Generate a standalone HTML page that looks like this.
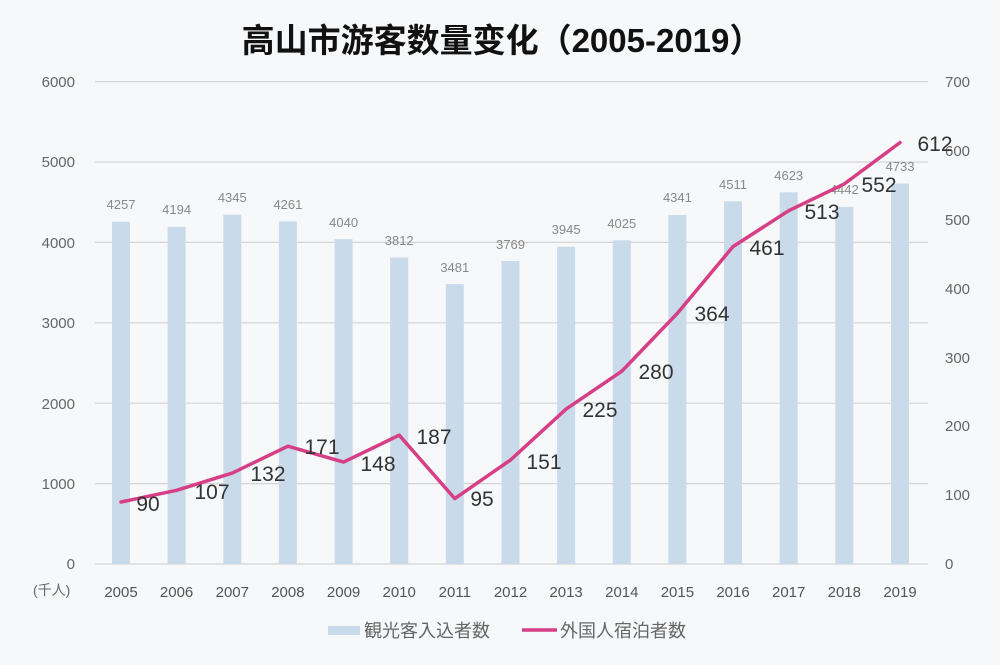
<!DOCTYPE html>
<html><head><meta charset="utf-8"><style>
body{margin:0;background:#f7f8f9;}
svg{display:block;font-family:"Liberation Sans","Noto Sans CJK JP",sans-serif;}
</style></head><body>
<svg width="1000" height="665" viewBox="0 0 1000 665">
<rect width="1000" height="665" fill="#f7f8f9"/>
<text x="502" y="52" text-anchor="middle" font-size="33" font-weight="bold" fill="#111" font-family="Liberation Sans,Noto Sans CJK SC,sans-serif">高山市游客数量变化（2005-2019）</text>
<g stroke="#d4d4d4" stroke-width="1.2">
<line x1="95" x2="928" y1="81.6" y2="81.6"/><line x1="95" x2="928" y1="162" y2="162"/><line x1="95" x2="928" y1="242.4" y2="242.4"/><line x1="95" x2="928" y1="322.8" y2="322.8"/><line x1="95" x2="928" y1="403.2" y2="403.2"/><line x1="95" x2="928" y1="483.6" y2="483.6"/><line x1="95" x2="928" y1="564" y2="564"/>
</g>
<g fill="#666" font-size="15" text-anchor="end">
<text x="75" y="87">6000</text><text x="75" y="167">5000</text><text x="75" y="248">4000</text><text x="75" y="328">3000</text><text x="75" y="409">2000</text><text x="75" y="489">1000</text><text x="75" y="569">0</text>
</g>
<g fill="#666" font-size="15">
<text x="945" y="87">700</text><text x="945" y="156">600</text><text x="945" y="225">500</text><text x="945" y="294">400</text><text x="945" y="363">300</text><text x="945" y="431">200</text><text x="945" y="500">100</text><text x="945" y="569">0</text>
</g>
<text x="33" y="595" fill="#666" font-size="14">(千人)</text>
<g fill="#c9dbea">
<rect x="112" y="221.7" width="18" height="342.3"/><rect x="167.6" y="226.8" width="18" height="337.2"/><rect x="223.3" y="214.7" width="18" height="349.3"/><rect x="278.9" y="221.4" width="18" height="342.6"/><rect x="334.6" y="239.2" width="18" height="324.8"/><rect x="390.2" y="257.5" width="18" height="306.5"/><rect x="445.8" y="284.1" width="18" height="279.9"/><rect x="501.5" y="261" width="18" height="303"/><rect x="557.1" y="246.8" width="18" height="317.2"/><rect x="612.8" y="240.4" width="18" height="323.6"/><rect x="668.4" y="215" width="18" height="349"/><rect x="724" y="201.3" width="18" height="362.7"/><rect x="779.7" y="192.3" width="18" height="371.7"/><rect x="835.3" y="206.9" width="18" height="357.1"/><rect x="891" y="183.5" width="18" height="380.5"/>
</g>
<g fill="#888" font-size="13" text-anchor="middle">
<text x="121" y="209">4257</text><text x="176.6" y="214">4194</text><text x="232.3" y="202">4345</text><text x="287.9" y="209">4261</text><text x="343.6" y="227">4040</text><text x="399.2" y="245">3812</text><text x="454.8" y="272">3481</text><text x="510.5" y="249">3769</text><text x="566.1" y="234">3945</text><text x="621.8" y="228">4025</text><text x="677.4" y="202">4341</text><text x="733" y="189">4511</text><text x="788.7" y="180">4623</text><text x="844.3" y="194">4442</text><text x="900" y="171">4733</text>
</g>
<g fill="#555" font-size="15" text-anchor="middle">
<text x="121" y="597">2005</text><text x="176.6" y="597">2006</text><text x="232.3" y="597">2007</text><text x="287.9" y="597">2008</text><text x="343.6" y="597">2009</text><text x="399.2" y="597">2010</text><text x="454.8" y="597">2011</text><text x="510.5" y="597">2012</text><text x="566.1" y="597">2013</text><text x="621.8" y="597">2014</text><text x="677.4" y="597">2015</text><text x="733" y="597">2016</text><text x="788.7" y="597">2017</text><text x="844.3" y="597">2018</text><text x="900" y="597">2019</text>
</g>
<polyline fill="none" stroke="#d63f86" stroke-width="3.5" stroke-linejoin="round" stroke-linecap="round" points="121,502 176.6,490.3 232.3,473.1 287.9,446.2 343.6,462.1 399.2,435.2 454.8,498.6 510.5,460 566.1,409.1 621.8,371.2 677.4,313.3 733,246.6 788.7,210.7 844.3,183.9 900,142.6"/>
<g fill="#333" font-size="21" text-anchor="middle">
<text x="148" y="511">90</text><text x="212" y="499">107</text><text x="268" y="481">132</text><text x="322" y="454">171</text><text x="378" y="471">148</text><text x="434" y="444">187</text><text x="482" y="506">95</text><text x="544" y="469">151</text><text x="600" y="417">225</text><text x="656" y="379">280</text><text x="712" y="321">364</text><text x="767" y="255">461</text><text x="822" y="219">513</text><text x="879" y="192">552</text><text x="935" y="151">612</text>
</g>
<rect x="328" y="626" width="32" height="9" fill="#c9dbea"/>
<text x="364" y="637" fill="#666" font-size="18">観光客入込者数</text>
<line x1="522" x2="557" y1="630" y2="630" stroke="#d63f86" stroke-width="3.5"/>
<text x="560" y="637" fill="#666" font-size="18">外国人宿泊者数</text>
</svg>
</body></html>
